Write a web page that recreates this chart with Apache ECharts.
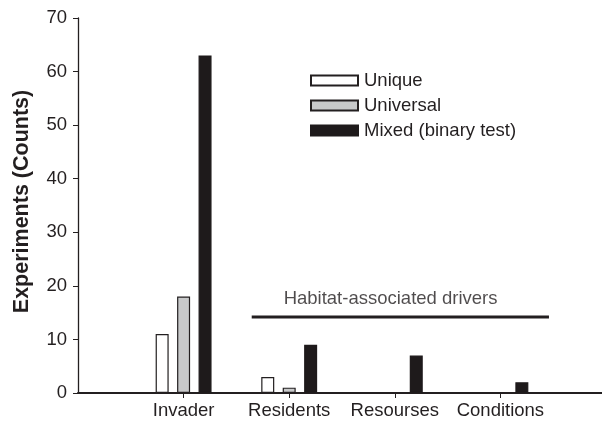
<!DOCTYPE html>
<html><head><meta charset="utf-8">
<script src="https://cdn.jsdelivr.net/npm/echarts@6/dist/echarts.min.js"></script>
<style>html,body{margin:0;padding:0;background:#fff}#c{width:602px;height:425px}</style>
</head><body><div id="c"></div>
<script>
const categories = ['', 'Invader', 'Residents', 'Resourses', 'Conditions', ''];
const unique = [null, 11, 3, 0, 0, null];
const universal = [null, 18, 1, 0, 0, null];
const mixed = [null, 63, 9, 7, 2, null];
const seriesNames = ['Unique', 'Universal', 'Mixed (binary test)'];
const yTicks = [0, 10, 20, 30, 40, 50, 60, 70];
const annotationText = 'Habitat-associated drivers';
const annotationLine = [[1.645, 14.2], [4.46, 14.2]];
const annotationLabelPos = [[2.96, 17.6]];

const FONT = 'Liberation Sans, Arial, Helvetica, sans-serif';
const INK = '#231f20';
const FS = 18.5;
// zero-valued bars are not drawn (no outline on the axis)
const bars = (arr) => arr.map(v => (v === 0 ? { value: 0, itemStyle: { borderWidth: 0, opacity: 0 } } : v));
const inner = (i) => i > 0 && i < categories.length - 1;

const chart = echarts.init(document.getElementById('c'));
chart.setOption({
  animation: false,
  textStyle: { fontFamily: FONT, color: INK },
  grid: { left: 78, top: 18, width: 528, height: 375, containLabel: false, outerBoundsMode: 'none' },
  legend: {
    orient: 'vertical', left: 310, top: 71, icon: 'rect', padding: 0,
    itemWidth: 47, itemHeight: 10, itemGap: 6,
    textStyle: { fontSize: FS, color: INK, fontFamily: FONT, padding: [0, 0, 0, 1] },
    data: seriesNames
  },
  xAxis: [{
    type: 'category', data: categories, boundaryGap: false,
    axisLine: { lineStyle: { color: INK, width: 2 } },
    axisTick: { length: 5, lineStyle: { color: INK }, interval: inner },
    axisLabel: { fontSize: FS, color: INK, margin: 8, fontFamily: FONT, interval: 0 },
    splitLine: { show: false }
  }, {
    type: 'value', min: 0, max: categories.length - 1, show: false, position: 'bottom'
  }],
  yAxis: {
    type: 'value', min: yTicks[0], max: yTicks[yTicks.length - 1], interval: 10,
    name: 'Experiments (Counts)', nameLocation: 'middle', nameGap: 45,
    nameTextStyle: { fontSize: 21.5, fontWeight: 'bold', color: INK, fontFamily: FONT, padding: [0, 0, 0, 8] },
    axisLine: { show: true, lineStyle: { color: INK, width: 1.3 } },
    axisTick: { show: true, length: 5, lineStyle: { color: INK } },
    axisLabel: { fontSize: FS, color: INK, margin: 11, fontFamily: FONT },
    splitLine: { show: false }
  },
  series: [
    { name: seriesNames[0], type: 'bar', data: bars(unique), barWidth: 13, barGap: '65%',
      itemStyle: { color: '#ffffff', borderColor: INK, borderWidth: 1.2 } },
    { name: seriesNames[1], type: 'bar', data: bars(universal), barWidth: 13, barGap: '65%',
      itemStyle: { color: '#c8c9ca', borderColor: INK, borderWidth: 1.2 } },
    { name: seriesNames[2], type: 'bar', data: bars(mixed), barWidth: 13, barGap: '65%',
      itemStyle: { color: '#1e1a1b', borderColor: '#1e1a1b', borderWidth: 1.2 } },
    { type: 'line', xAxisIndex: 1, data: annotationLine, symbol: 'none',
      lineStyle: { color: INK, width: 3 }, silent: true },
    { type: 'scatter', xAxisIndex: 1, data: annotationLabelPos, symbolSize: 0, silent: true,
      label: { show: true, position: 'inside', formatter: annotationText, fontSize: FS, color: INK, fontFamily: FONT } }
  ]
});
</script></body></html>
